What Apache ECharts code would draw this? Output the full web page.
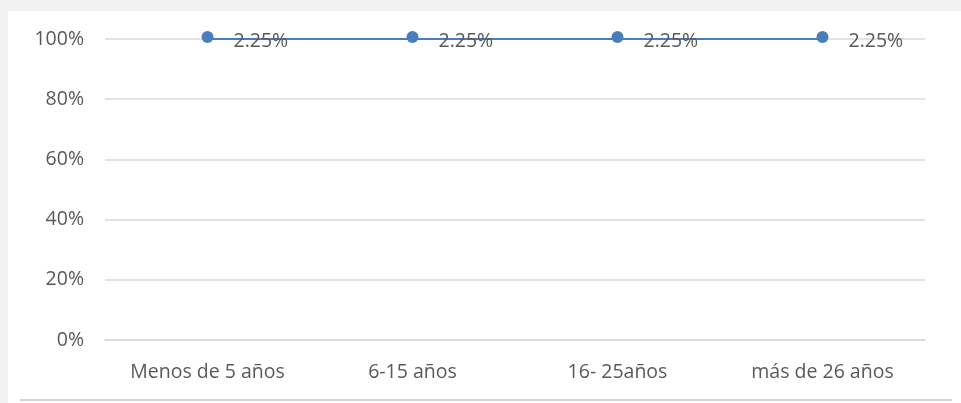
<!DOCTYPE html>
<html>
<head>
<meta charset="utf-8">
<script src="https://cdn.jsdelivr.net/npm/echarts@6/dist/echarts.min.js"></script>
<style>
  html, body { margin: 0; padding: 0; background: #f2f2f2; }
  #chart { width: 961px; height: 403px; }
</style>
</head>
<body>
<div id="chart"></div>
<script>
// Antigüedad categories and the reported value for each
const categories = ['Menos de 5 años', '6-15 años', '16- 25años', 'más de 26 años'];
const values = [2.25, 2.25, 2.25, 2.25];
const yTicks = [0, 20, 40, 60, 80, 100];

// 100% stacked view: each point is its share of the category total
const totals = categories.map((_, i) => values[i]);
const shares = values.map((v, i) => (v / totals[i]) * 100);

const chart = echarts.init(document.getElementById('chart'), null, { renderer: 'canvas' });
const FONT = 'Open Sans';

chart.setOption({
  backgroundColor: 'transparent',
  animation: false,
  graphic: [
    { type: 'rect', z: -10, shape: { x: 8, y: 11, width: 953, height: 392 }, style: { fill: '#ffffff' } },
    { type: 'line', z: -5, shape: { x1: 20, y1: 400, x2: 952, y2: 400 }, style: { stroke: '#d4d4d4', lineWidth: 2 } }
  ],
  grid: { left: 105, right: 36, top: 39, bottom: 63, containLabel: false },
  xAxis: {
    type: 'category',
    data: categories,
    boundaryGap: true,
    axisLine: { show: true, lineStyle: { color: '#d9d9d9', width: 1.5 } },
    axisTick: { show: false },
    axisLabel: { interval: 0, hideOverlap: false, color: '#595959', fontFamily: FONT, fontSize: 19.5, margin: 22 }
  },
  yAxis: {
    type: 'value',
    min: yTicks[0],
    max: yTicks[yTicks.length - 1],
    interval: 20,
    axisLine: { show: false },
    axisTick: { show: false },
    splitLine: { lineStyle: { color: '#d9d9d9', width: 1.5 } },
    axisLabel: { color: '#595959', fontFamily: FONT, fontSize: 19.5, margin: 21, formatter: v => v + '%' }
  },
  series: [{
    type: 'line',
    data: shares,
    symbol: 'circle',
    symbolSize: 12,
    symbolOffset: [0, -2],
    lineStyle: { color: '#4a7ebb', width: 2 },
    itemStyle: { color: '#4a7ebb' },
    label: {
      show: true,
      position: 'right',
      distance: 20,
      offset: [0, 4],
      color: '#595959',
      fontFamily: FONT,
      fontSize: 19.5,
      formatter: p => values[p.dataIndex].toFixed(2) + '%'
    }
  }]
});
</script>
</body>
</html>
